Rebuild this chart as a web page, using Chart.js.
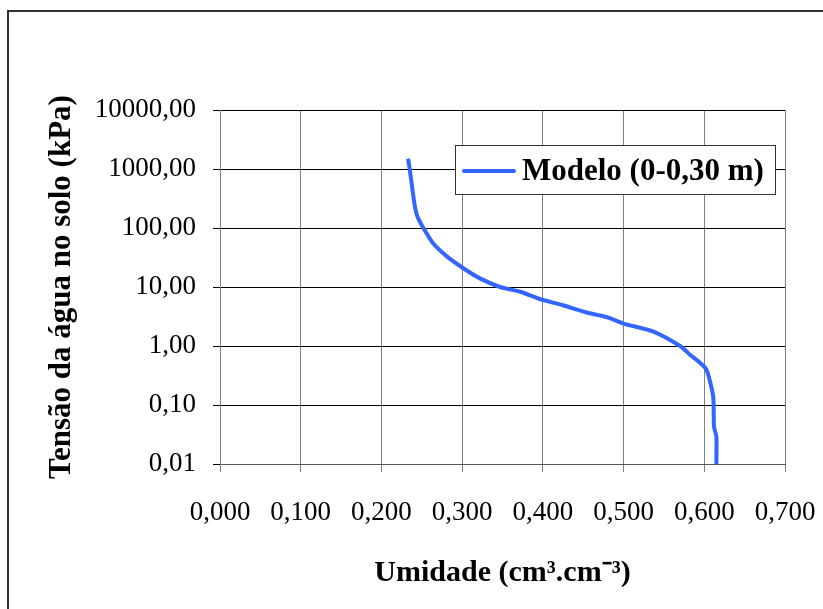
<!doctype html>
<html>

<head>
  <meta charset="utf-8">
  <script src="https://cdn.jsdelivr.net/npm/chart.js@4/dist/chart.umd.min.js"></script>
  <style>
    body { margin: 0; background: #fff; }
  </style>
</head>

<body>
  <canvas id="canvas" width="823" height="609"></canvas>
  <script>
    // curva de retenção - modelo ajustado (0-0,30 m)
    const umidade = [0.233, 0.235, 0.2375, 0.2385, 0.2415, 0.2447, 0.252, 0.264, 0.281, 0.301, 0.322, 0.347,
      0.372, 0.397, 0.425, 0.454, 0.479, 0.500, 0.537, 0.570, 0.582, 0.602, 0.611, 0.612, 0.615, 0.615];
    const tensao = [1500, 1000, 570, 440, 230, 155, 100, 55, 33, 21, 14, 10,
      8.3, 6.2, 4.9, 3.7, 3.1, 2.4, 1.75, 1.0, 0.72, 0.41, 0.14, 0.043, 0.029, 0.01];
    const yTicks = [0.01, 0.1, 1, 10, 100, 1000, 10000];
    const xTicks = [0, 0.1, 0.2, 0.3, 0.4, 0.5, 0.6, 0.7];
    const serieNome = 'Modelo (0-0,30 m)';

    const serif = 'Liberation Serif, Times New Roman, serif';
    const azul = '#3366ff';

    // moldura (só esquerda e topo) + legenda dentro da área do gráfico
    const frame = {
      id: 'frame',
      beforeDraw(chart) {
        const ctx = chart.ctx;
        ctx.save();
        ctx.strokeStyle = '#333';
        ctx.lineWidth = 2;
        ctx.beginPath();
        ctx.moveTo(8, 609);
        ctx.lineTo(8, 11);
        ctx.lineTo(823, 11);
        ctx.stroke();
        ctx.restore();
      },
      afterDraw(chart) {
        const ctx = chart.ctx;
        const ds = chart.data.datasets[0];
        ctx.save();
        ctx.fillStyle = '#fff';
        ctx.fillRect(455, 145, 320, 49);
        ctx.strokeStyle = '#333';
        ctx.lineWidth = 1;
        ctx.strokeRect(455.5, 145.5, 320, 49);
        ctx.strokeStyle = ds.borderColor;
        ctx.lineWidth = 4;
        ctx.lineCap = 'round';
        ctx.beginPath();
        ctx.moveTo(464, 171);
        ctx.lineTo(514, 171);
        ctx.stroke();
        ctx.fillStyle = '#000';
        ctx.font = 'bold 31px ' + serif;
        ctx.textBaseline = 'middle';
        ctx.fillText(ds.label, 522, 172);
        ctx.restore();
      }
    };

    new Chart(document.getElementById('canvas').getContext('2d'), {
      type: 'scatter',
      data: {
        datasets: [{
          label: serieNome,
          data: umidade.map((u, i) => ({ x: u, y: tensao[i] })),
          showLine: true,
          borderColor: azul,
          borderWidth: 4,
          pointRadius: 0,
          tension: 0.2
        }]
      },
      options: {
        responsive: false,
        animation: false,
        layout: { padding: { top: 110, right: 38, left: 0, bottom: 0 } },
        plugins: {
          legend: { display: false },
          tooltip: { enabled: false }
        },
        scales: {
          x: {
            type: 'linear',
            min: 0,
            max: 0.7,
            afterBuildTicks: (s) => { s.ticks = xTicks.map((v) => ({ value: v })); },
            afterFit: (s) => {
              s.height = 145;
              // sem folga extra para o rótulo 0,700
              s.paddingLeft = 0;
              s.paddingRight = 0;
            },
            ticks: {
              color: '#000',
              padding: 25,
              maxRotation: 0,
              font: { family: serif, size: 27 },
              callback: (v) => v.toFixed(3).replace('.', ',')
            },
            grid: { color: '#808080', lineWidth: 1, tickLength: 8 },
            border: { color: '#555', width: 1 },
            title: {
              display: true,
              text: 'Umidade (cm³.cm⁻³)',
              color: '#000',
              font: { family: serif, size: 30, weight: 'bold' },
              padding: { top: 0, bottom: 18 }
            }
          },
          y: {
            type: 'logarithmic',
            min: 0.01,
            max: 10000,
            afterBuildTicks: (s) => { s.ticks = yTicks.map((v) => ({ value: v })); },
            afterFit: (s) => { s.width = 220; },
            ticks: {
              color: '#000',
              padding: 17,
              font: { family: serif, size: 27 },
              callback: (v) => Number(v).toFixed(2).replace('.', ',')
            },
            grid: { color: '#000', lineWidth: 1, tickLength: 7 },
            border: { color: '#808080', width: 1 },
            title: {
              display: true,
              text: 'Tensão da água no solo (kPa)',
              color: '#000',
              font: { family: serif, size: 31, weight: 'bold' },
              padding: { top: 43, bottom: 0 }
            }
          }
        }
      },
      plugins: [frame]
    });
  </script>
</body>

</html>
